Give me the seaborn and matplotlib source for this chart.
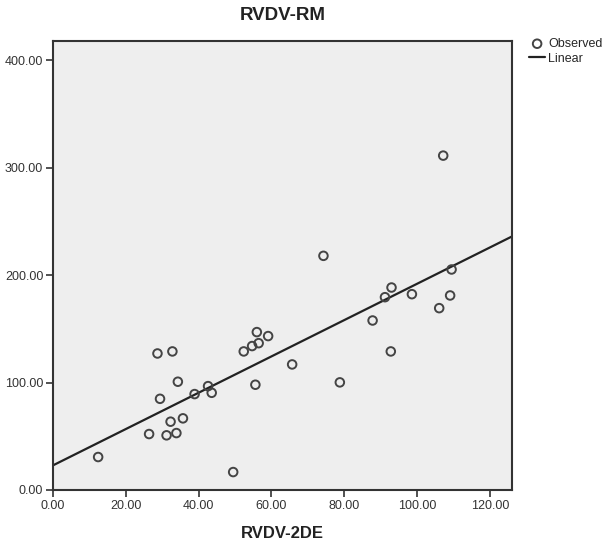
import matplotlib
matplotlib.use("Agg")
import matplotlib.pyplot as plt
import seaborn as sns
import pandas as pd
import numpy as np

# Data
rvdv_2de = [12.4, 26.4, 31.2, 33.9, 32.3, 35.7, 29.4, 34.3, 28.7, 32.8, 38.9,
            42.6, 43.6, 49.5, 52.4, 54.7, 56.0, 56.5, 59.1, 55.6, 65.7,
            107.2, 74.3, 93.0, 91.2, 98.6, 109.5, 109.1, 106.1, 87.8, 92.8, 78.8]
rvdv_rm = [30.7, 52.1, 50.9, 53.0, 63.6, 66.7, 84.9, 100.8, 127.1, 129.0, 89.3,
           96.7, 90.5, 16.7, 129.0, 134.0, 147.0, 136.7, 143.3, 98.0, 116.9,
           311.3, 218.0, 188.5, 179.5, 182.3, 205.3, 181.1, 169.3, 157.8, 129.0, 100.2]
x_ticks = [0, 20, 40, 60, 80, 100, 120]
y_ticks = [0, 100, 200, 300, 400]

df = pd.DataFrame({"RVDV-2DE": rvdv_2de, "RVDV-RM": rvdv_rm})

sns.set_style("ticks")
plt.rcParams["font.family"] = ["Liberation Sans", "DejaVu Sans"]

fig = plt.figure(figsize=(6.06, 5.47), dpi=100)
ax = fig.add_axes([53/606, 1-490/547, (512-53)/606, (490-41)/547])
ax.set_facecolor("#eeeeee")
ax.set_xlim(0, 126.1)
ax.set_ylim(0, 418)

sns.scatterplot(data=df, x="RVDV-2DE", y="RVDV-RM", ax=ax, marker="o",
                s=38, facecolor="none", edgecolor="#444444", linewidth=1.4,
                zorder=3, legend=False)
sns.regplot(data=df, x="RVDV-2DE", y="RVDV-RM", ax=ax, scatter=False, ci=None,
            truncate=False, color="#222222", line_kws={"linewidth": 1.6})
ax.set_xlim(0, 126.1)
ax.set_ylim(0, 418)

ax.set_xticks(x_ticks)
ax.set_yticks(y_ticks)
ax.set_xticklabels([f"{v:.2f}" for v in x_ticks], fontsize=9, color="#333333")
ax.set_yticklabels([f"{v:.2f}" for v in y_ticks], fontsize=9, color="#333333")
ax.tick_params(direction="out", length=5, width=1.2, color="#333333", pad=2)
for s in ax.spines.values():
    s.set_visible(True)
    s.set_linewidth(1.5)
    s.set_color("#333333")

ax.set_xlabel("RVDV-2DE", fontsize=12, fontweight="bold", color="#222222", labelpad=10)
ax.set_ylabel("")
ax.set_title("RVDV-RM", fontsize=13.5, fontweight="bold", color="#222222", pad=15)

obs_handle = ax.collections[0]
lin_handle = ax.lines[0]
ax.legend([obs_handle, lin_handle], ["Observed", "Linear"],
          loc="upper left", bbox_to_anchor=(529/606, 1-38/547),
          bbox_transform=fig.transFigure, frameon=False, fontsize=9,
          handlelength=1.3, handletextpad=0.25, labelspacing=0.2, borderaxespad=0,
          borderpad=0)

fig.savefig("out.png", dpi=100)
